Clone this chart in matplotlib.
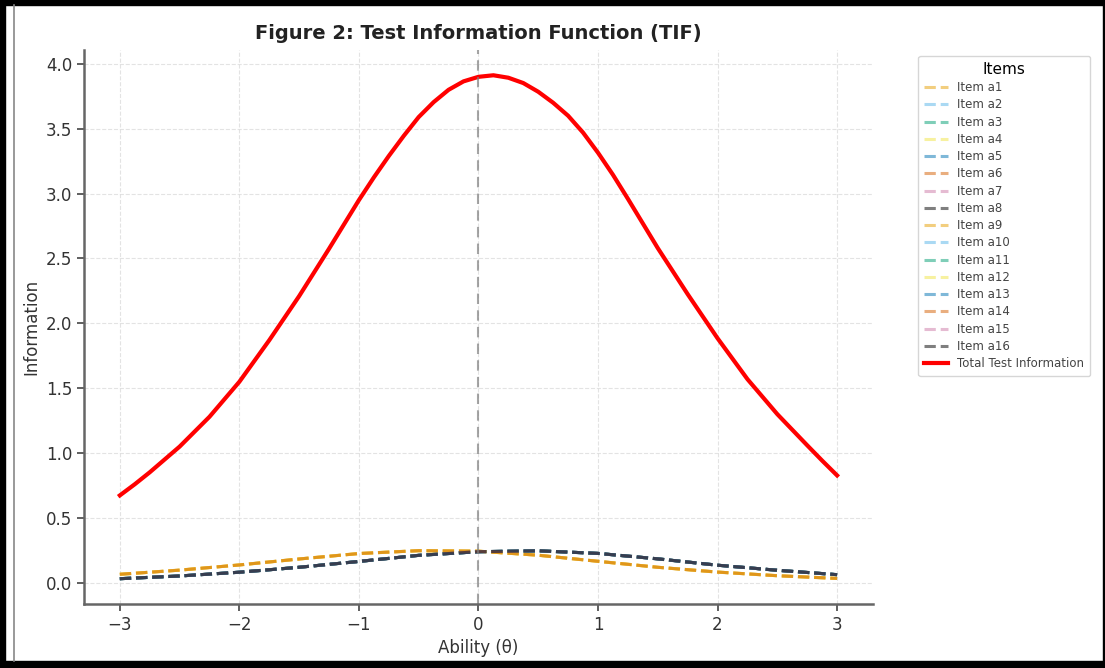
import matplotlib
matplotlib.use("Agg")
import matplotlib.pyplot as plt
from matplotlib.patches import Rectangle
from matplotlib.lines import Line2D

# ability grid and values
theta_items = [-3.0, -2.5, -2.0, -1.5, -1.0, -0.5, 0.0, 0.5, 1.0, 1.5, 2.0, 2.5, 3.0]

# items peaking slightly left of zero
info_left = [0.066, 0.098, 0.138, 0.184, 0.226, 0.248, 0.244, 0.213, 0.166, 0.120, 0.083, 0.055, 0.034]
# items peaking slightly right of zero
info_right = [0.032, 0.053, 0.082, 0.120, 0.165, 0.212, 0.240, 0.247, 0.227, 0.185, 0.136, 0.097, 0.063]

item_names = ["Item a%d" % i for i in range(1, 17)]
item_side = ["L", "R", "R", "L", "R", "R", "R", "R", "L", "R", "R", "L", "R", "L", "R", "R"]

theta_total = [-3.0, -2.875, -2.75, -2.5, -2.25, -2.0, -1.75, -1.5, -1.25, -1.0, -0.875, -0.75,
               -0.625, -0.5, -0.375, -0.25, -0.125, 0.0, 0.125, 0.25, 0.375, 0.5, 0.625, 0.75,
               0.875, 1.0, 1.125, 1.25, 1.5, 1.75, 2.0, 2.25, 2.5, 2.75, 2.875, 3.0]
total_info = [0.674, 0.760, 0.852, 1.050, 1.280, 1.550, 1.870, 2.210, 2.575, 2.950, 3.125, 3.290,
              3.445, 3.590, 3.705, 3.800, 3.865, 3.900, 3.912, 3.893, 3.852, 3.785, 3.700, 3.600,
              3.470, 3.315, 3.145, 2.960, 2.580, 2.225, 1.885, 1.570, 1.300, 1.060, 0.942, 0.828]

palette = ["#E69F00", "#56B4E9", "#009E73", "#F0E442", "#0072B2", "#D55E00", "#CC79A7", "#000000"]

fig = plt.figure(figsize=(11.05, 6.68), dpi=100)
ax = fig.add_axes([0.076, 0.096, 0.714, 0.829])

for i, name in enumerate(item_names):
    vals = info_left if item_side[i] == "L" else info_right
    ax.plot(theta_items, vals, linestyle="--", linewidth=2.2, alpha=0.5,
            color=palette[i % 8], label=name)

ax.plot(theta_total, total_info, color="red", linewidth=3, label="Total Test Information")
ax.axvline(0, color="gray", linestyle="--", linewidth=1.5, alpha=0.7, dashes=(5, 3))

ax.set_title("Figure 2: Test Information Function (TIF)", fontsize=14, fontweight="bold",
             color="#222222", pad=8)
ax.set_xlabel("Ability (θ)", fontsize=12, color="#333333")
ax.set_ylabel("Information", fontsize=12, color="#333333")
ax.tick_params(labelsize=12, colors="#444444", labelcolor="#333333", width=1.2, length=5)
ax.set_yticks([0, 0.5, 1.0, 1.5, 2.0, 2.5, 3.0, 3.5, 4.0])
ax.grid(True, linestyle="--", color="#dddddd", linewidth=0.8, alpha=0.8)
for s in ["top", "right"]:
    ax.spines[s].set_visible(False)
for s in ["left", "bottom"]:
    ax.spines[s].set_color("#666666")
    ax.spines[s].set_linewidth(1.8)

leg = ax.legend(title="Items", bbox_to_anchor=(1.05, 1.0), loc="upper left",
                fontsize=8.5, title_fontsize=11, frameon=True, handlelength=2.0,
                labelspacing=0.36, borderpad=0.5)
leg.get_frame().set_edgecolor("#cccccc")
for t in leg.get_texts():
    t.set_color("#444444")

# dark screenshot frame
fig.add_artist(Rectangle((0, 1 - 5 / 668), 1, 5 / 668, transform=fig.transFigure, color="black"))
fig.add_artist(Rectangle((0, 0), 1, 7 / 668, transform=fig.transFigure, color="black"))
fig.add_artist(Rectangle((0, 0), 5 / 1105, 1, transform=fig.transFigure, color="black"))
fig.add_artist(Rectangle((1 - 2 / 1105, 0), 2 / 1105, 1, transform=fig.transFigure, color="black"))
fig.add_artist(Line2D([14 / 1105, 14 / 1105], [7 / 668, 1 - 5 / 668], transform=fig.transFigure,
                      color="#888888", linewidth=1.2))

fig.savefig("out.png", dpi=100)
